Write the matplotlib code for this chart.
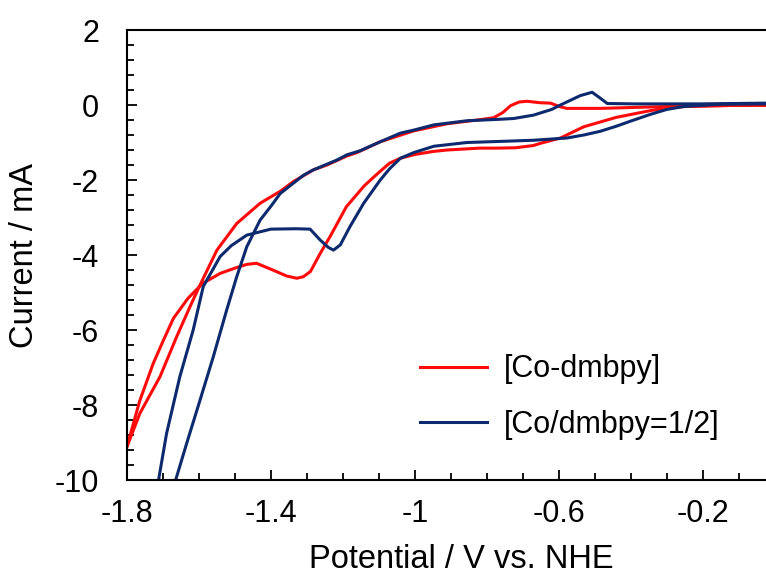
import matplotlib
matplotlib.use("Agg")
import matplotlib.pyplot as plt
from matplotlib.ticker import MultipleLocator

plt.rcParams['font.family'] = ['Liberation Sans', 'DejaVu Sans']
plt.rcParams['axes.unicode_minus'] = False

# [Co-dmbpy] cathodic sweep (from right to left), then return sweep
red_fwd_v = [-0.02, -0.11, -0.25, -0.30, -0.345, -0.44, -0.53, -0.595, -0.65, -0.67,
             -0.72, -0.77, -0.82, -0.91, -0.95, -1.00, -1.04, -1.07, -1.10, -1.14,
             -1.19, -1.235, -1.263, -1.29, -1.31, -1.328, -1.356, -1.39, -1.44, -1.467,
             -1.50, -1.541, -1.59, -1.63, -1.671, -1.70, -1.727, -1.765, -1.80]
red_fwd_i = [-0.01, -0.01, -0.04, -0.08, -0.15, -0.33, -0.58, -0.88, -1.02, -1.08,
             -1.14, -1.15, -1.15, -1.20, -1.24, -1.32, -1.42, -1.55, -1.80, -2.15,
             -2.71, -3.50, -3.96, -4.44, -4.58, -4.62, -4.56, -4.42, -4.22, -4.25,
             -4.35, -4.49, -4.76, -5.15, -5.69, -6.30, -6.89, -7.90, -9.11]
red_rev_v = [-1.80, -1.764, -1.708, -1.662, -1.625, -1.597, -1.55, -1.495, -1.43, -1.374,
             -1.337, -1.282, -1.244, -1.189, -1.161, -1.096, -1.003, -0.91, -0.818, -0.781,
             -0.755, -0.734, -0.71, -0.688, -0.651, -0.623, -0.595, -0.577, -0.484, -0.298,
             -0.113, -0.02]
red_rev_i = [-9.11, -8.22, -7.24, -6.18, -5.38, -4.80, -3.87, -3.16, -2.62, -2.30,
             -2.04, -1.73, -1.60, -1.36, -1.27, -0.98, -0.69, -0.50, -0.39, -0.34,
             -0.20, -0.02, 0.08, 0.10, 0.06, 0.05, -0.05, -0.09, -0.09, -0.04,
             -0.01, 0.00]

# [Co/dmbpy=1/2]
blue_fwd_v = [-0.02, -0.15, -0.252, -0.30, -0.345, -0.40, -0.438, -0.484, -0.53, -0.577,
              -0.67, -0.76, -0.855, -0.947, -1.003, -1.04, -1.07, -1.096, -1.142, -1.18,
              -1.207, -1.226, -1.24, -1.263, -1.291, -1.33, -1.40, -1.467, -1.51, -1.541,
              -1.588, -1.616, -1.653, -1.69, -1.713]
blue_fwd_i = [0.03, 0.02, -0.04, -0.12, -0.25, -0.43, -0.56, -0.70, -0.80, -0.88,
              -0.94, -0.97, -1.00, -1.10, -1.27, -1.42, -1.70, -2.00, -2.62, -3.24,
              -3.73, -3.87, -3.80, -3.60, -3.31, -3.30, -3.31, -3.47, -3.75, -4.04,
              -4.84, -6.00, -7.24, -8.76, -10.04]
blue_rev_v = [-1.666, -1.634, -1.597, -1.56, -1.523, -1.495, -1.467, -1.43, -1.40, -1.374,
              -1.309, -1.282, -1.217, -1.189, -1.152, -1.096, -1.04, -1.003, -0.947, -0.855,
              -0.762, -0.725, -0.67, -0.62, -0.595, -0.54, -0.507, -0.484, -0.465, -0.391,
              -0.206, -0.113, -0.02]
blue_rev_i = [-10.04, -9.02, -7.87, -6.71, -5.47, -4.58, -3.78, -3.07, -2.70, -2.36,
              -1.87, -1.73, -1.47, -1.33, -1.22, -0.98, -0.75, -0.67, -0.53, -0.42,
              -0.38, -0.36, -0.27, -0.12, 0.00, 0.25, 0.34, 0.18, 0.04, 0.03,
              0.03, 0.04, 0.05]

labels = ['[Co-dmbpy]', '[Co/dmbpy=1/2]']
colors = ['#ff0a0a', '#0d2a6e']

xticks = [-1.8, -1.4, -1.0, -0.6, -0.2]
xticklabels = ['-1.8', '-1.4', '-1', '-0.6', '-0.2']
yticks = [2, 0, -2, -4, -6, -8, -10]
yticklabels = ['2', '0', '-2', '-4', '-6', '-8', '-10']

fs = 22

fig = plt.figure(figsize=(7.66, 5.78), dpi=100)
ax = fig.add_axes([127 / 766, 98 / 578, 647.5 / 766, 450 / 578])

lw = 2.2
ax.plot(red_fwd_v, red_fwd_i, color=colors[0], lw=lw, label=labels[0])
ax.plot(red_rev_v, red_rev_i, color=colors[0], lw=lw)
ax.plot(blue_fwd_v, blue_fwd_i, color=colors[1], lw=lw, label=labels[1])
ax.plot(blue_rev_v, blue_rev_i, color=colors[1], lw=lw)

ax.set_xlim(-1.8, 0)
ax.set_ylim(-10, 2)
ax.set_xticks(xticks)
ax.set_xticklabels(xticklabels)
ax.set_yticks(yticks)
ax.set_yticklabels(yticklabels)
ax.xaxis.set_minor_locator(MultipleLocator(0.1))
ax.yaxis.set_minor_locator(MultipleLocator(0.4))
ax.tick_params(which='both', direction='in', width=1.3, labelsize=fs)
ax.tick_params(axis='x', pad=14)
ax.tick_params(axis='y', pad=20)
ax.tick_params(which='major', length=7)
ax.tick_params(which='minor', length=5)
ax.tick_params(axis='x', which='both', top=False)
ax.tick_params(axis='y', which='both', right=False)
for s in ax.spines.values():
    s.set_linewidth(1.5)

ax.set_xlabel('Potential / V vs. NHE', fontsize=23.5)
ax.set_ylabel('Current / mA', fontsize=23.5)
ax.xaxis.set_label_coords(0.517, -0.143)
ax.yaxis.set_label_coords(-0.134, 0.5)

ax.legend(loc='center left', bbox_to_anchor=(0.4525, 0.184), frameon=False,
          fontsize=fs, handlelength=2.2, handletextpad=0.55, labelspacing=0.85,
          borderpad=0, borderaxespad=0)

fig.savefig('out.png', dpi=100)
